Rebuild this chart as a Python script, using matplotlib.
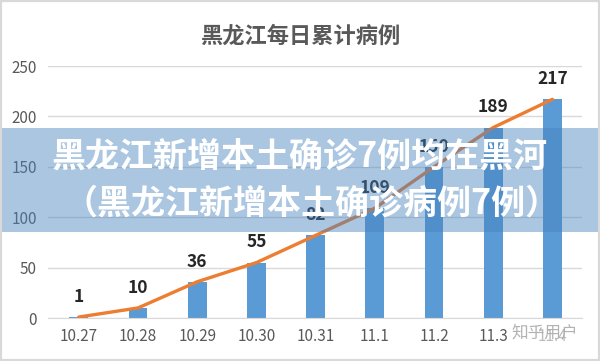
import matplotlib
matplotlib.use("Agg")
import matplotlib.pyplot as plt
from matplotlib.patches import Rectangle

plt.rcParams['font.family'] = ['Noto Sans CJK SC', 'DejaVu Sans']

dates = ['10.27', '10.28', '10.29', '10.30', '10.31', '11.1', '11.2', '11.3', '11.4']
totals = [1, 10, 36, 55, 82, 109, 150, 189, 217]
y_ticks = [0, 50, 100, 150, 200, 250]

bar_color = '#5b9bd5'
line_color = '#ed7d31'
grey = '#595959'

fig = plt.figure(figsize=(6, 3.61), dpi=100)
ax = fig.add_axes([0.08, 0.119, 0.89, 0.698])

x = list(range(len(dates)))
ax.bar(x, totals, width=0.32, color=bar_color, zorder=2)
ax.plot(x, totals, color=line_color, linewidth=2.4, zorder=3, solid_capstyle='round')
for xi, v in zip(x, totals):
    ax.annotate(str(v), (xi, v), xytext=(0, 14.5), textcoords='offset points',
                ha='center', va='center', fontsize=12.5, weight='bold', color='#262626', zorder=4)

ax.set_xlim(-0.52, 8.5)
ax.set_ylim(0, 250)
ax.set_yticks(y_ticks)
ax.set_xticks(x)
ax.set_xticklabels(dates)
ax.yaxis.grid(True, color='#d9d9d9', linewidth=1, zorder=0)
ax.tick_params(axis='both', length=0, labelsize=11, labelcolor=grey)
ax.tick_params(axis='x', pad=7)
ax.tick_params(axis='y', pad=8)
for s in ['top', 'right', 'left']:
    ax.spines[s].set_visible(False)
ax.spines['bottom'].set_color('#d9d9d9')

fig.text(0.5, 1 - 36/361, '黑龙江每日累计病例', ha='center', va='center', fontsize=16,
         weight='bold', color=grey)

# headline banner over the chart
fig.patches.append(Rectangle((0, 1 - 232/361), 1, 104/361, transform=fig.transFigure,
                             facecolor='#4682be', alpha=0.45, edgecolor='none', zorder=5))
fig.text(52/600, 1 - 157/361, '黑龙江新增本土确诊7例均在黑河', ha='left', va='center',
         fontsize=24.5, weight='heavy', color='white', zorder=6)
fig.text(63/600, 1 - 203/361, '（黑龙江新增本土确诊病例7例）', ha='left', va='center',
         fontsize=24.5, weight='heavy', color='white', zorder=6)

fig.text(545/600, 1 - 333/361, '知乎用户', ha='center', va='center', fontsize=12,
         color='#aaaaaa', alpha=0.9, zorder=6,
         bbox=dict(facecolor='white', edgecolor='none', alpha=0.6, pad=0))

fig.patches.append(Rectangle((0, 0), 1, 1, transform=fig.transFigure, fill=False,
                             edgecolor='#d9d9d9', linewidth=3, zorder=7))

fig.savefig('out.png', dpi=100, facecolor='white')
